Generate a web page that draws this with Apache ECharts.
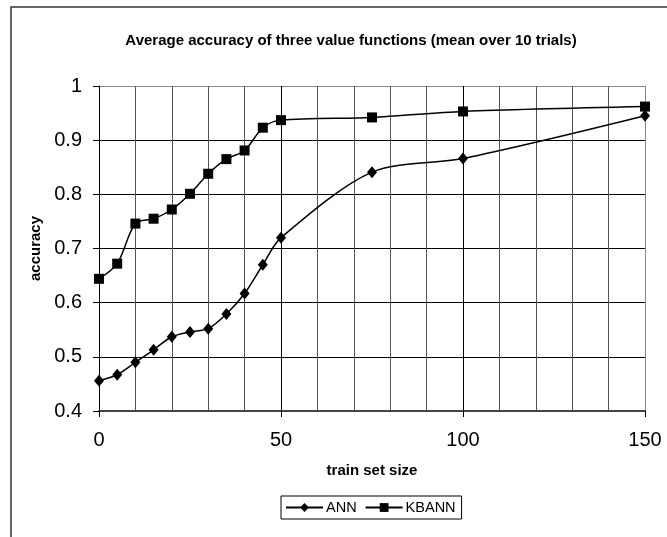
<!DOCTYPE html>
<html>
<head>
<meta charset="utf-8">
<script src="https://cdn.jsdelivr.net/npm/echarts@6/dist/echarts.min.js"></script>
<style>
  html, body { margin: 0; padding: 0; background: #fff; }
  #chart { width: 667px; height: 537px; }
</style>
</head>
<body>
<div id="chart"></div>
<script>
// train set sizes and mean accuracy
var trainSizes = [0, 5, 10, 15, 20, 25, 30, 35, 40, 45, 50, 75, 100, 150];
var annAcc = [0.456, 0.467, 0.490, 0.513, 0.537, 0.546, 0.552, 0.579, 0.617, 0.670, 0.720, 0.841, 0.866, 0.945];
var kbannAcc = [0.644, 0.672, 0.746, 0.755, 0.772, 0.801, 0.838, 0.865, 0.881, 0.923, 0.937, 0.942, 0.953, 0.962];
var seriesNames = ["ANN", "KBANN"];

var font = "'Liberation Sans', Arial, sans-serif";

function pairs(xs, ys) {
  var out = [];
  for (var i = 0; i < xs.length; i++) out.push([xs[i], ys[i]]);
  return out;
}

var chart = echarts.init(document.getElementById("chart"));
var option = {
  backgroundColor: "#fff",
  animation: false,
  graphic: [
    {
      type: "rect",
      shape: { x: 11, y: 7, width: 700, height: 600 },
      style: { fill: "none", stroke: "#333", lineWidth: 1.5 },
      silent: true
    }
  ],
  title: {
    text: "Average accuracy of three value functions (mean over 10 trials)",
    left: 346,
    textAlign: "center",
    top: 28,
    textStyle: { fontFamily: font, fontSize: 15, fontWeight: "bold", color: "#000" }
  },
  legend: {
    data: seriesNames,
    left: 281,
    top: 496,
    padding: [4, 6, 4, 4],
    itemWidth: 37,
    itemHeight: 11,
    itemGap: 8,
    borderColor: "#000",
    borderWidth: 1,
    textStyle: { fontFamily: font, fontSize: 14.5, color: "#000", padding: [0, 0, 0, -2] }
  },
  grid: { left: 99, right: 22, top: 86, bottom: 126 },
  xAxis: {
    type: "value",
    min: 0,
    max: 150,
    interval: 50,
    name: "train set size",
    nameLocation: "middle",
    nameGap: 52,
    nameTextStyle: { fontFamily: font, fontSize: 15, fontWeight: "bold", color: "#000" },
    axisLine: { show: true, lineStyle: { color: "#444", width: 2 } },
    axisTick: { show: true, length: 6, lineStyle: { color: "#000" } },
    axisLabel: { fontFamily: font, fontSize: 20, color: "#000", margin: 19 },
    splitLine: { show: true, lineStyle: { color: ["#000", "#000", "#000", "#888"], width: 1 } },
    minorTick: { show: false, splitNumber: 5 },
    minorSplitLine: { show: true, lineStyle: { color: "#555", width: 1 } }
  },
  yAxis: {
    type: "value",
    min: 0.4,
    max: 1,
    interval: 0.1,
    name: "accuracy",
    nameLocation: "middle",
    nameGap: 54,
    nameTextStyle: { fontFamily: font, fontSize: 15, fontWeight: "bold", color: "#000" },
    axisLine: { show: true, lineStyle: { color: "#000", width: 1 } },
    axisTick: { show: true, length: 6, lineStyle: { color: "#000" } },
    axisLabel: {
      fontFamily: font, fontSize: 20, color: "#000", margin: 17,
      formatter: function (v) { return String(Math.round(v * 10) / 10); }
    },
    splitLine: { show: true, lineStyle: { color: ["#000", "#000", "#000", "#000", "#000", "#000", "#888"], width: 1 } }
  },
  series: [
    {
      name: seriesNames[0],
      type: "line",
      data: pairs(trainSizes, annAcc),
      smooth: 0.3,
      symbol: "diamond",
      symbolSize: [10, 12],
      itemStyle: { color: "#000" },
      lineStyle: { color: "#000", width: 1.5 }
    },
    {
      name: seriesNames[1],
      type: "line",
      data: pairs(trainSizes, kbannAcc),
      smooth: 0.3,
      symbol: "rect",
      symbolSize: 10,
      itemStyle: { color: "#000" },
      lineStyle: { color: "#000", width: 1.5 }
    }
  ]
};
chart.setOption(option);
</script>
</body>
</html>
